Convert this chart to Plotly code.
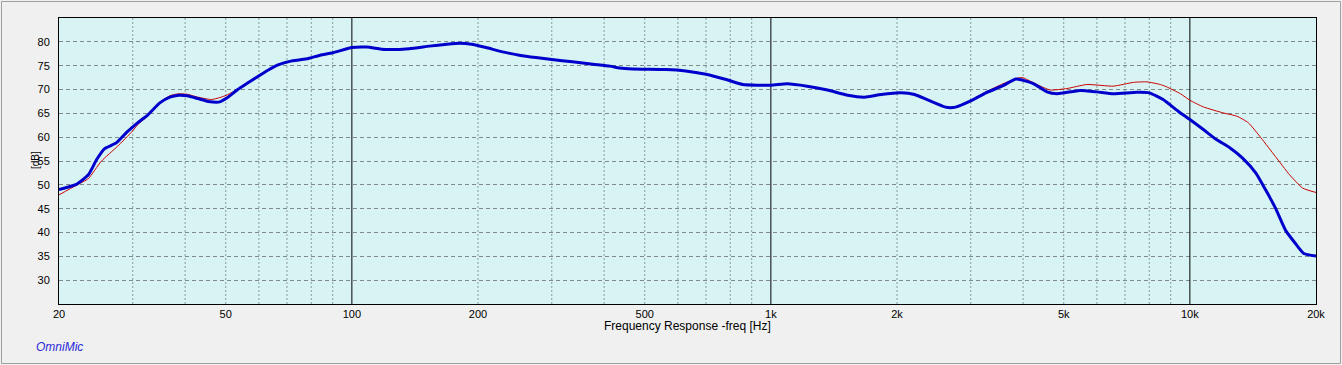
import math
import plotly.graph_objects as go

# ---- data ----
blue_freq = [20, 22, 23.5, 24.6, 25.7, 27.4, 29, 30.8, 32.6, 34.8, 36.8, 38.6, 40.5, 42.9, 45.4, 48.4,
             50.5, 53.4, 56.5, 59.8, 63.2, 66.9, 71.9, 78.7, 84, 90, 100, 108.5, 120, 137, 153, 168.6,
             181, 193, 209, 229, 251, 275, 300, 336, 376, 413, 436, 468, 561, 626, 700, 782, 857, 1000,
             1093, 1221, 1365, 1526, 1672, 1833, 2044, 2202, 2376, 2610, 2760, 2980, 3260, 3580, 3850,
             4240, 4560, 4820, 5470, 6000, 6570, 7460, 8000, 8630, 9390, 10000, 10770, 11570, 12430,
             13360, 14360, 15160, 16010, 16910, 17860, 18700, 20000]
blue_db = [49.0, 50.1, 52.1, 55.3, 57.6, 58.8, 61.0, 63.0, 64.7, 67.2, 68.4, 68.8, 68.7, 68.1, 67.5, 67.4,
           68.3, 70.0, 71.4, 72.8, 74.1, 75.2, 76.0, 76.5, 77.2, 77.7, 78.8, 78.9, 78.4, 78.55, 79.1, 79.5,
           79.7, 79.5, 78.8, 77.9, 77.2, 76.7, 76.3, 75.8, 75.3, 74.9, 74.5, 74.3, 74.2, 73.9, 73.2, 72.1, 71.05, 70.9,
           71.2, 70.7, 69.9, 68.8, 68.4, 68.95, 69.3, 68.95, 67.75, 66.3, 66.3, 67.5, 69.3, 70.8, 72.2,
           71.2, 69.5, 69.1, 69.8, 69.5, 69.1, 69.4, 69.3, 67.9, 65.4, 63.7, 61.6, 59.5, 57.85,
           55.6, 52.5, 48.95, 45.1, 40.5, 37.7, 35.6, 35.05]

red_freq = [20, 22, 23.5, 25.2, 27.6, 29.9, 30.8, 32.6, 34.8, 36.8, 38.6, 40.5, 42.9, 46.2, 48.4,
            50.5, 53.4, 56.5, 59.8, 63.2, 66.9, 71.9, 78.7, 84, 90, 100, 108.5, 120, 137, 153, 168.6,
            181, 193, 209, 229, 251, 275, 300, 336, 376, 413, 436, 468, 561, 626, 700, 782, 857, 1000,
            1093, 1221, 1365, 1526, 1672, 1833, 2044, 2202, 2376, 2610, 2760, 2980, 3260, 3580, 3900,
            4000, 4316, 4640, 5087, 5678, 6570, 7336, 7900, 8500, 8780, 9500, 10000, 10770, 12000,
            12950, 13800, 14800, 16000, 17300, 18600, 20000]
red_db = [47.9, 49.9, 51.3, 54.9, 58.1, 61.2, 62.6, 64.5, 67.3, 68.7, 69.1, 69.0, 68.4, 67.9, 68.3,
          68.9, 70.1, 71.5, 72.9, 74.2, 75.1, 76.0, 76.5, 77.2, 77.7, 78.8, 79.0, 78.4, 78.55, 79.1, 79.5,
          79.7, 79.5, 78.8, 77.9, 77.2, 76.7, 76.3, 75.8, 75.3, 74.9, 74.5, 74.3, 74.2, 73.9, 73.2, 72.1, 71.05, 70.9,
          71.2, 70.7, 69.9, 68.8, 68.4, 68.95, 69.3, 68.95, 67.75, 66.3, 66.3, 67.6, 69.5, 71.2, 72.45,
          72.45, 71.05, 69.9, 70.2, 71.05, 70.7, 71.5, 71.6, 71.05, 70.6, 69.1, 67.75, 66.35, 65.1,
          64.4, 63.0, 59.8, 55.95, 52.1, 49.3, 48.4]

x_tick_vals = [20, 50, 100, 200, 500, 1000, 2000, 5000, 10000, 20000]
x_tick_text = ["20", "50", "100", "200", "500", "1k", "2k", "5k", "10k", "20k"]
y_tick_vals = [30, 35, 40, 45, 50, 55, 60, 65, 70, 75, 80]
minor_grid_freqs = [30, 40, 50, 60, 70, 80, 90,
                    200, 300, 400, 500, 600, 700, 800, 900,
                    2000, 3000, 4000, 5000, 6000, 7000, 8000, 9000]
decade_freqs = [100, 1000, 10000]
y_min, y_max = 25, 85
f_min, f_max = 20, 20000


def vlines(freqs):
    xs, ys = [], []
    for f in freqs:
        xs += [f, f, None]
        ys += [y_min, y_max, None]
    return xs, ys


fig = go.Figure()

mx, my = vlines(minor_grid_freqs)
fig.add_trace(go.Scatter(x=mx, y=my, mode="lines", hoverinfo="skip", showlegend=False,
                         line=dict(color="#8a9a9a", width=1, dash="2px,2px")))
dx, dy = vlines(decade_freqs)
fig.add_trace(go.Scatter(x=dx, y=dy, mode="lines", hoverinfo="skip", showlegend=False,
                         line=dict(color="#000000", width=1)))

fig.add_trace(go.Scatter(x=red_freq, y=red_db, mode="lines", showlegend=False,
                         line=dict(color="#cc0000", width=1, shape="spline", smoothing=0.5)))
fig.add_trace(go.Scatter(x=blue_freq, y=blue_db, mode="lines", showlegend=False,
                         line=dict(color="#0000cc", width=3, shape="spline", smoothing=0.5)))

fig.update_xaxes(type="log", range=[math.log10(f_min), math.log10(f_max)],
                 tickvals=x_tick_vals, ticktext=x_tick_text, showgrid=False,
                 showline=True, mirror=True, linecolor="black", linewidth=1,
                 ticks="", automargin=False,
                 tickfont=dict(family="Liberation Sans, Arial", size=11, color="black"),
                 zeroline=False)
fig.update_yaxes(range=[y_min, y_max], tickvals=y_tick_vals, showgrid=True,
                 gridcolor="#7f8a8a", gridwidth=1, griddash="4px,3px",
                 showline=True, mirror=True, linecolor="black", linewidth=1,
                 ticks="", ticklabelstandoff=6, automargin=False,
                 tickfont=dict(family="Liberation Sans, Arial", size=11, color="black"),
                 zeroline=False)

fig.update_layout(
    width=1342, height=365,
    margin=dict(l=59, r=26, t=18, b=61, autoexpand=False),
    plot_bgcolor="#d8f3f3", paper_bgcolor="#f0f0f0",
    showlegend=False,
    annotations=[
        dict(text="Frequency Response -freq [Hz]", xref="paper", yref="paper",
             x=(687 - 59) / 1257, y=(304 - 326) / 286, xanchor="center", yanchor="middle",
             showarrow=False, font=dict(family="Liberation Sans, Arial", size=12, color="black")),
        dict(text="[dB]", xref="paper", yref="paper", textangle=-90,
             x=(35 - 59) / 1257, y=(304 - 160) / 286, xanchor="center", yanchor="middle",
             showarrow=False, font=dict(family="Liberation Sans, Arial", size=10, color="black")),
        dict(text="OmniMic", xref="paper", yref="paper",
             x=(34 - 59) / 1257, y=(304 - 347) / 286, xanchor="left", yanchor="middle",
             showarrow=False, font=dict(family="Liberation Sans, Arial", size=12, color="#2a2ad8",
                                        style="italic")),
    ],
    shapes=[
        dict(type="rect", xref="paper", yref="paper",
             x0=(1.5 - 59) / 1257, x1=(1340.5 - 59) / 1257,
             y0=(304 - 363.5) / 286, y1=(304 - 1.5) / 286,
             line=dict(color="#a0a0a0", width=1), fillcolor="rgba(0,0,0,0)", layer="below"),
    ],
)

fig.write_html(
    "out.html",
    config={"displayModeBar": False},
    post_script="document.body.style.margin='0';document.body.style.padding='0';"
                "document.body.style.overflow='hidden';",
)
